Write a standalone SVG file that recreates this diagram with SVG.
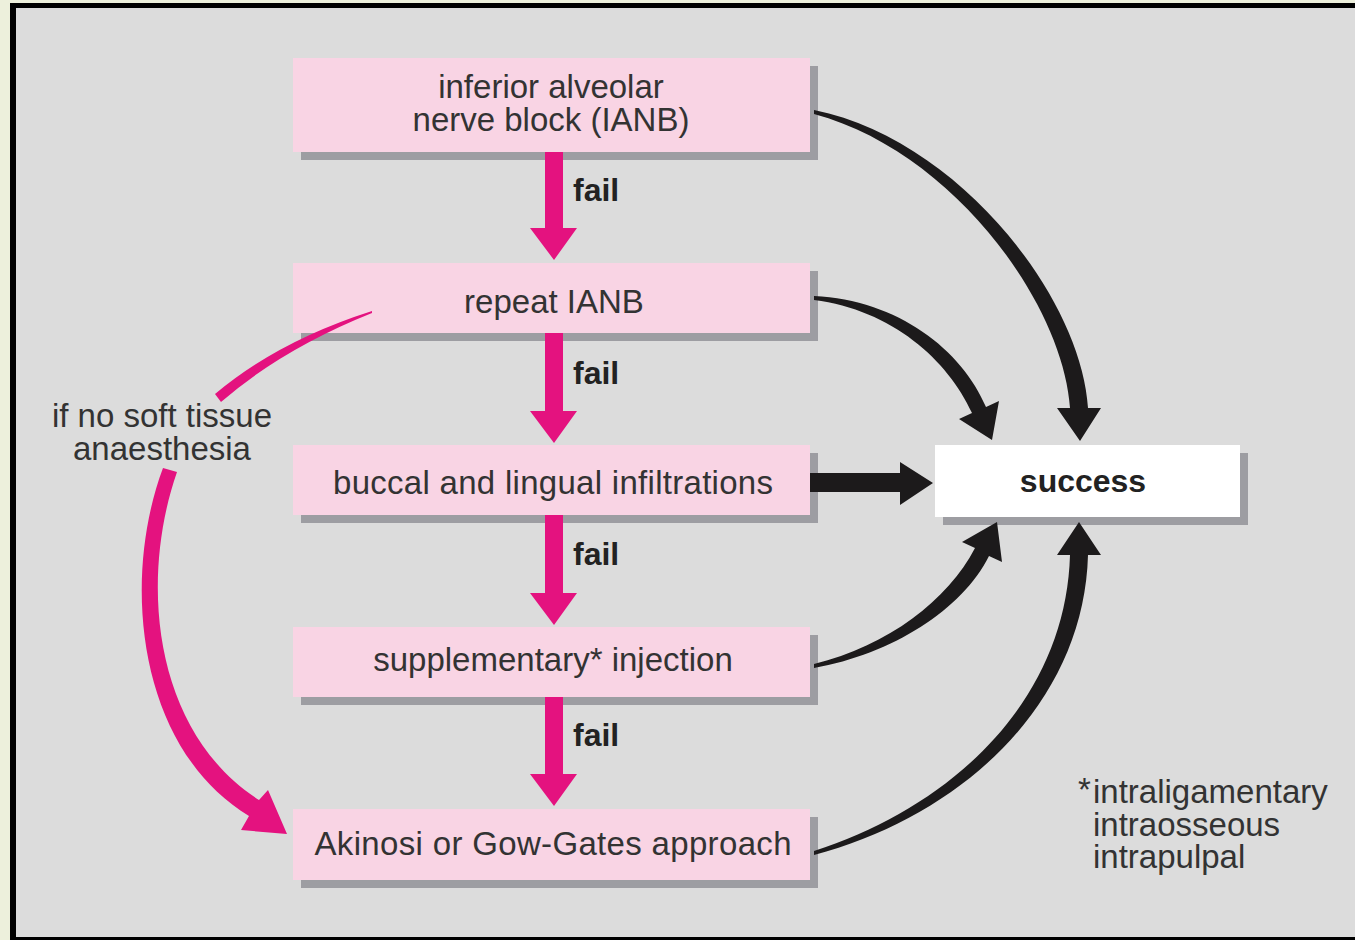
<svg xmlns="http://www.w3.org/2000/svg" width="1355" height="940" viewBox="0 0 1355 940">
<style>
.box{fill:#f9d4e4}
.sh{fill:#9d9da2}
.t{font-family:"Liberation Sans",Arial,sans-serif;font-size:33px;fill:#333;text-anchor:middle}
.b{font-family:"Liberation Sans",Arial,sans-serif;font-weight:bold;fill:#222}
.pk{fill:#e4127f}
.bk{fill:#1c1a1b}
.fn{font-family:"Liberation Sans",Arial,sans-serif;font-size:33px;fill:#333}
</style>
<rect x="0" y="0" width="1355" height="940" fill="#edf0dc"/>
<rect x="10" y="3" width="1345" height="937" fill="#000"/>
<rect x="16" y="8" width="1339" height="929" fill="#dcdcdc"/>

<g id="node-ianb">
<rect class="sh" x="301" y="66" width="517" height="94"/>
<rect class="box" x="293" y="58" width="517" height="94"/>
<text class="t" x="551" y="98">inferior alveolar</text>
<text class="t" x="551" y="131">nerve block (IANB)</text>
</g>
<g id="node-repeat">
<rect class="sh" x="301" y="271" width="517" height="70"/>
<rect class="box" x="293" y="263" width="517" height="70"/>
<text class="t" x="554" y="313">repeat IANB</text>
</g>
<g id="node-buccal">
<rect class="sh" x="301" y="453" width="517" height="70"/>
<rect class="box" x="293" y="445" width="517" height="70"/>
<text class="t" x="553" y="494" textLength="440" lengthAdjust="spacing">buccal and lingual infiltrations</text>
</g>
<g id="node-supp">
<rect class="sh" x="301" y="635" width="517" height="70"/>
<rect class="box" x="293" y="627" width="517" height="70"/>
<text class="t" x="553" y="671">supplementary* injection</text>
</g>
<g id="node-akinosi">
<rect class="sh" x="301" y="817" width="517" height="71"/>
<rect class="box" x="293" y="809" width="517" height="71"/>
<text class="t" x="553" y="855" textLength="477" lengthAdjust="spacing">Akinosi or Gow-Gates approach</text>
</g>
<g id="node-success">
<rect class="sh" x="943" y="453" width="305" height="72"/>
<rect x="935" y="445" width="305" height="72" fill="#fff"/>
<text class="b" x="1083" y="492" font-size="32" text-anchor="middle">success</text>
</g>

<g id="connectors">
<path class="pk" d="M545,152 H563 V228 H577 L554,260 L530,228 H545 Z"/>
<path class="pk" d="M545,333 H563 V411 H577 L554,443 L530,411 H545 Z"/>
<path class="pk" d="M545,515 H563 V593 H577 L554,625 L530,593 H545 Z"/>
<path class="pk" d="M545,697 H563 V774 H577 L554,806 L530,774 H545 Z"/>
<text class="b" x="573" y="201" font-size="32">fail</text>
<text class="b" x="573" y="384" font-size="32">fail</text>
<text class="b" x="573" y="565" font-size="32">fail</text>
<text class="b" x="573" y="746" font-size="32">fail</text>

<path class="pk" d="M372,311 Q278,341 215,394 L221,402 Q282,349 372,313 Z"/>
<path class="pk" d="M163,468 C121,580 137,748 249,816 L241,830 L287,834 L268,790 L259,800 C153,732 139,581 177,472 Z"/>
<text class="t" x="162" y="427">if no soft tissue</text>
<text class="t" x="162" y="460">anaesthesia</text>

<path class="bk" d="M814,110 C958,139 1081,297 1088,408 L1101,408 L1080,441 L1057,408 L1070,408 C1063,303 952,151 814,114 Z"/>
<path class="bk" d="M814,296 C898,300 962,350 986,407 L999,401 L992,440 L959,419 L972,413 C948,360 892,310 814,300 Z"/>
<path class="bk" d="M810,473 H900 V462 L933,483 L900,505 V492 H810 Z"/>
<path class="bk" d="M814,668 C892,654 962,610 989,556 L1002,562 L997,522 L962,542 L975,548 C948,600 888,646 814,664 Z"/>
<path class="bk" d="M814,855 C964,815 1084,702 1088,555 L1101,555 L1079,522 L1057,555 L1070,555 C1066,698 956,805 814,851 Z"/>
</g>

<g id="footnote">
<text class="fn" x="1078" y="801" font-size="22">*</text>
<text class="fn" x="1093" y="803">intraligamentary</text>
<text class="fn" x="1093" y="836">intraosseous</text>
<text class="fn" x="1093" y="868">intrapulpal</text>
</g>
</svg>
